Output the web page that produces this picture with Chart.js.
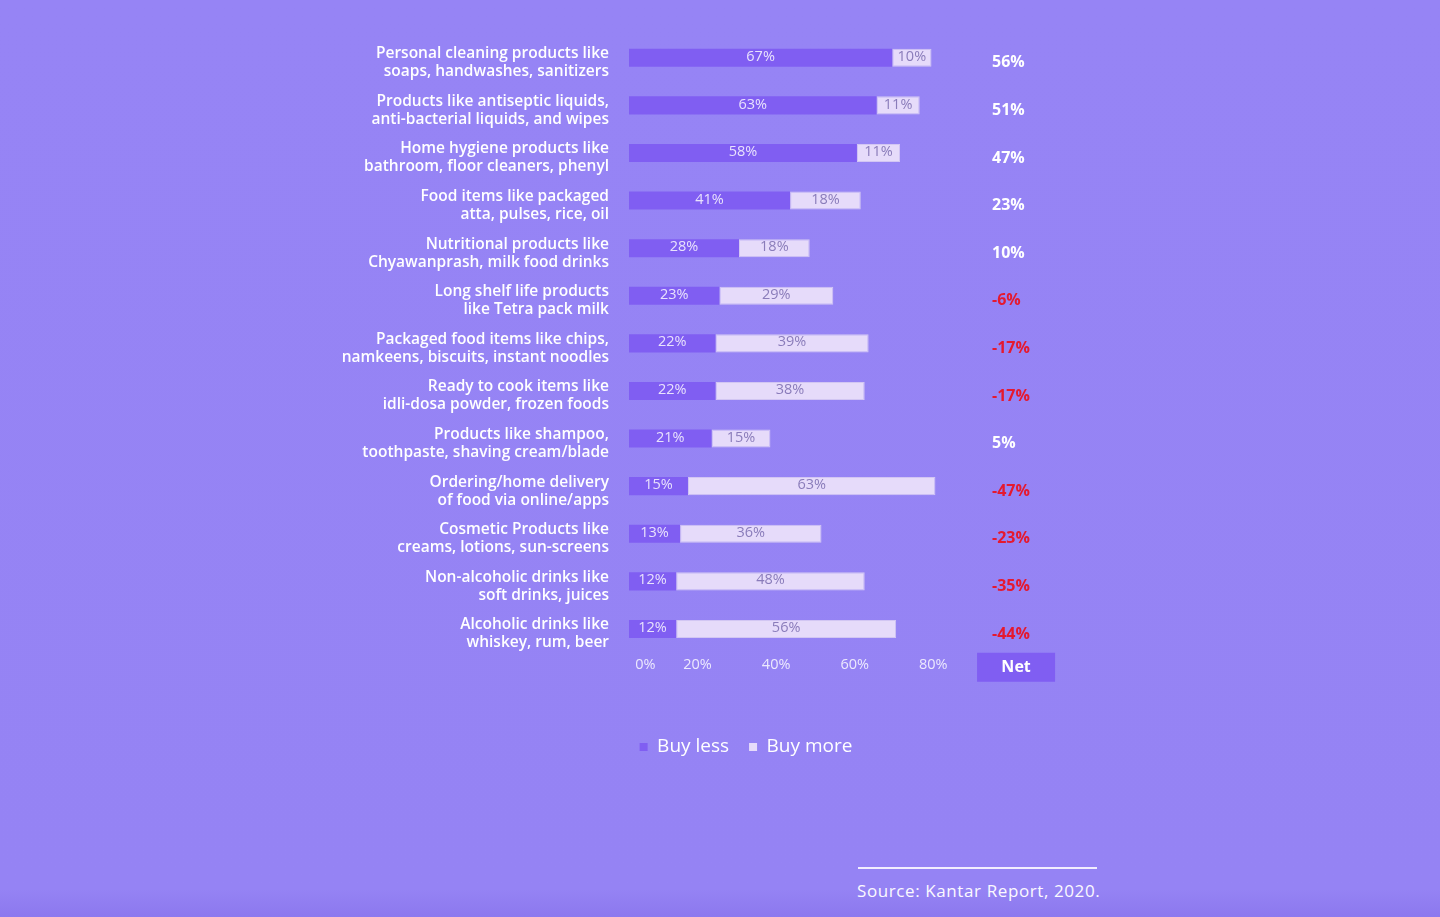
<!DOCTYPE html>
<html>
<head>
<meta charset="utf-8">
<script src="https://cdn.jsdelivr.net/npm/chart.js@4.4.1/dist/chart.umd.min.js"></script>
<style>
  html, body { margin:0; padding:0; width:1440px; height:917px; overflow:hidden;
    background: linear-gradient(to bottom, #9684f5 0%, #9583f4 97%, #8c78ee 100%); }
  #wrap { position:absolute; left:313px; top:-4px; width:866px; height:784px; }
  #srcline { position:absolute; left:858px; top:867px; width:239px; height:2px; background:#f2eefe; }
  #src { position:absolute; left:857px; top:879px; font-family:"Open Sans", sans-serif; font-size:17px;
    color:#fbf9ff; letter-spacing:0.6px; }
</style>
</head>
<body>
<div id="wrap"><canvas id="c"></canvas></div>
<div id="srcline"></div>
<div id="src">Source: Kantar Report, 2020.</div>
<script>
const categories = [
  ["Personal cleaning products like", "soaps, handwashes, sanitizers"],
  ["Products like antiseptic liquids,", "anti-bacterial liquids, and wipes"],
  ["Home hygiene products like", "bathroom, floor cleaners, phenyl"],
  ["Food items like packaged", "atta, pulses, rice, oil"],
  ["Nutritional products like", "Chyawanprash, milk food drinks"],
  ["Long shelf life products", "like Tetra pack milk"],
  ["Packaged food items like chips,", "namkeens, biscuits, instant noodles"],
  ["Ready to cook items like", "idli-dosa powder, frozen foods"],
  ["Products like shampoo,", "toothpaste, shaving cream/blade"],
  ["Ordering/home delivery", "of food via online/apps"],
  ["Cosmetic Products like", "creams, lotions, sun-screens"],
  ["Non-alcoholic drinks like", "soft drinks, juices"],
  ["Alcoholic drinks like", "whiskey, rum, beer"]
];
const buyLess = [67, 63, 58, 41, 28, 23, 22, 22, 21, 15, 13, 12, 12];
const buyMore = [10, 11, 11, 18, 18, 29, 39, 38, 15, 63, 36, 48, 56];
const netValues = [56, 51, 47, 23, 10, -6, -17, -17, 5, -47, -23, -35, -44];
const xTicks = [0, 20, 40, 60, 80];

const LESS_COLOR = '#805ef2';
const MORE_COLOR = '#e6dbfa';

const barLabels = {
  id: 'barLabels',
  afterDatasetsDraw(chart) {
    const ctx = chart.ctx;
    ctx.save();
    ctx.font = '400 14.5px "Open Sans", sans-serif';
    ctx.textAlign = 'center';
    ctx.textBaseline = 'middle';
    chart.data.datasets.forEach((ds, di) => {
      const meta = chart.getDatasetMeta(di);
      meta.data.forEach((el, i) => {
        const x = (el.x + el.base) / 2;
        ctx.fillStyle = di === 0 ? 'rgba(255,255,255,0.82)' : '#8a7cba';
        ctx.fillText(ds.data[i] + '%', x, el.y - 1);
      });
    });
    ctx.restore();
  }
};

const netColumn = {
  id: 'netColumn',
  afterDraw(chart) {
    const ctx = chart.ctx;
    const xs = chart.scales.x, ys = chart.scales.y;
    ctx.save();
    ctx.font = '700 16px "Open Sans", sans-serif';
    ctx.textAlign = 'left';
    ctx.textBaseline = 'middle';
    const nx = xs.getPixelForValue(92.4);
    netValues.forEach((v, i) => {
      const y = ys.getPixelForValue(i) + 5;
      ctx.fillStyle = v < 0 ? '#e5192f' : '#ffffff';
      ctx.fillText(v + '%', nx, y);
    });
    const bx = xs.getPixelForValue(88.6);
    const by = chart.chartArea.bottom;
    ctx.fillStyle = LESS_COLOR;
    ctx.fillRect(bx, by, 78, 29);
    ctx.fillStyle = '#ffffff';
    ctx.textAlign = 'center';
    ctx.fillText('Net', bx + 39, by + 15);
    ctx.restore();
  }
};

new Chart(document.getElementById('c'), {
  type: 'bar',
  data: {
    labels: categories,
    datasets: [
      { label: 'Buy less', data: buyLess, backgroundColor: LESS_COLOR, borderWidth: 0,
        barPercentage: 0.38, categoryPercentage: 1 },
      { label: 'Buy more', data: buyMore, backgroundColor: MORE_COLOR,
        borderColor: '#d2c6f3', borderWidth: 1, borderSkipped: false,
        barPercentage: 0.38, categoryPercentage: 1 }
    ]
  },
  options: {
    indexAxis: 'y',
    responsive: true,
    maintainAspectRatio: false,
    animation: false,
    layout: { padding: { top: 0, right: 0, bottom: 13.5, left: 0 } },
    plugins: {
      tooltip: { enabled: false },
      legend: {
        position: 'bottom',
        labels: {
          color: '#ffffff',
          font: { family: '"Open Sans", sans-serif', size: 19, weight: '400' },
          boxWidth: 8, boxHeight: 8, padding: 20,
          generateLabels(chart) {
            return chart.data.datasets.map((d, i) => ({
              text: d.label, fillStyle: d.backgroundColor, strokeStyle: d.backgroundColor,
              lineWidth: 0, fontColor: '#ffffff', datasetIndex: i, hidden: false
            }));
          }
        }
      }
    },
    scales: {
      x: {
        stacked: true, min: 0, max: 140,
        grid: { display: false, drawTicks: false },
        border: { display: false },
        afterBuildTicks(axis) { axis.ticks = xTicks.map(v => ({ value: v })); },
        afterFit(axis) { axis.height = 64.75; },
        ticks: {
          color: 'rgba(255,255,255,0.82)',
          font: { family: '"Open Sans", sans-serif', size: 14.5 },
          padding: 3, labelOffset: -10,
          callback: v => (v === 0 ? ' '.repeat(14) : '') + v + '%'
        }
      },
      y: {
        stacked: true,
        grid: { display: false, drawTicks: false },
        border: { display: false },
        afterFit(axis) { axis.width = 316; },
        ticks: {
          color: '#ffffff',
          font: { family: '"Open Sans", sans-serif', size: 15.5, weight: '600', lineHeight: 1.16 },
          padding: 20, labelOffset: 5
        }
      }
    }
  },
  plugins: [barLabels, netColumn]
});
</script>
</body>
</html>
